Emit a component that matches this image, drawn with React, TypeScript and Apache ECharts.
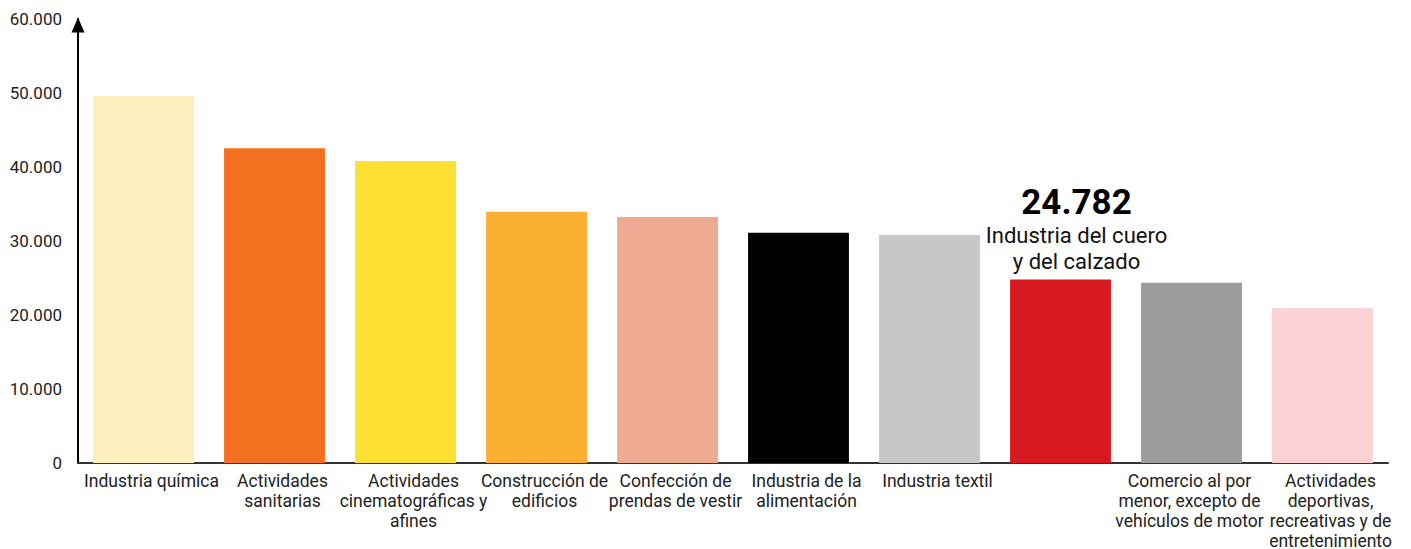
import React, { useEffect, useRef } from "react";
import * as echarts from "echarts";

const categories: string[] = [
  "Industria química",
  "Actividades\nsanitarias",
  "Actividades\ncinematográficas y\nafines",
  "Construcción de\nedificios",
  "Confección de\nprendas de vestir",
  "Industria de la\nalimentación",
  "Industria textil",
  "",
  "Comercio al por\nmenor, excepto de\nvehículos de motor",
  "Actividades\ndeportivas,\nrecreativas y de\nentretenimiento",
];

const values: number[] = [49600, 42550, 40800, 33950, 33250, 31100, 30800, 24782, 24350, 20900];

const barColors: string[] = [
  "#FDF0BE",
  "#F37021",
  "#FFE033",
  "#FBB034",
  "#EFAA93",
  "#000000",
  "#C8C7C8",
  "#D71920",
  "#9E9B9C",
  "#FCD2D4",
];

const highlightIndex = 7;
const highlightName: string[] = ["Industria del cuero", "y del calzado"];

const yMax = 60000;
const yInterval = 10000;

const fmt = (v: number) => String(Math.round(v)).replace(/\B(?=(\d{3})+(?!\d))/g, ".");

export default function App() {
  const ref = useRef<HTMLDivElement>(null);
  useEffect(() => {
    if (!ref.current) return;
    const chart = echarts.init(ref.current, undefined, { renderer: "svg" });
    chart.setOption({
      animation: false,
      textStyle: { fontFamily: "Roboto" },
      grid: {
        left: 78,
        right: 23,
        top: 19,
        bottom: 86,
        containLabel: false,
        outerBoundsMode: "none",
      },
      xAxis: {
        type: "category",
        data: categories.map((c, i) =>
          i === 8 ? { value: c, textStyle: { padding: [0, 4, 0, 0] } } : c
        ),
        axisLine: { show: true, lineStyle: { color: "#333", width: 2 } },
        axisTick: { show: false },
        axisLabel: {
          interval: 0,
          color: "#222",
          fontSize: 17.5,
          lineHeight: 20,
          margin: 8,
          padding: [0, 0, 0, 16],
          fontFamily: "Roboto",
        },
      },
      yAxis: {
        type: "value",
        min: 0,
        max: yMax,
        interval: yInterval,
        splitLine: { show: false },
        axisTick: { show: false },
        axisLine: {
          show: true,
          lineStyle: { color: "#000", width: 2 },
          symbol: ["none", "triangle"],
          symbolSize: [13, 15],
          symbolOffset: [0, -6],
        },
        axisLabel: {
          color: "#222",
          fontSize: 17,
          margin: 16,
          fontFamily: "Roboto",
          formatter: (v: number) => fmt(v),
        },
      },
      series: [
        {
          type: "bar",
          barCategoryGap: "23%",
          data: values.map((v, i) => ({
            value: v,
            itemStyle: { color: barColors[i] },
            label:
              i === highlightIndex
                ? {
                    show: true,
                    position: "top",
                    distance: 5,
                    offset: [16, 0],
                    formatter: () =>
                      `{v|${fmt(v)}}\n{n|${highlightName[0]}}\n{n|${highlightName[1]}}`,
                    rich: {
                      v: {
                        fontSize: 35,
                        fontWeight: "bold",
                        color: "#000",
                        lineHeight: 40,
                        fontFamily: "Roboto",
                      },
                      n: {
                        fontSize: 22,
                        color: "#111",
                        lineHeight: 26,
                        fontFamily: "Roboto",
                      },
                    },
                  }
                : { show: false },
          })),
        },
      ],
    });
    return () => chart.dispose();
  }, []);
  return <div ref={ref} style={{ width: 1411, height: 549, position: "absolute", left: 0, top: 0 }} />;
}
